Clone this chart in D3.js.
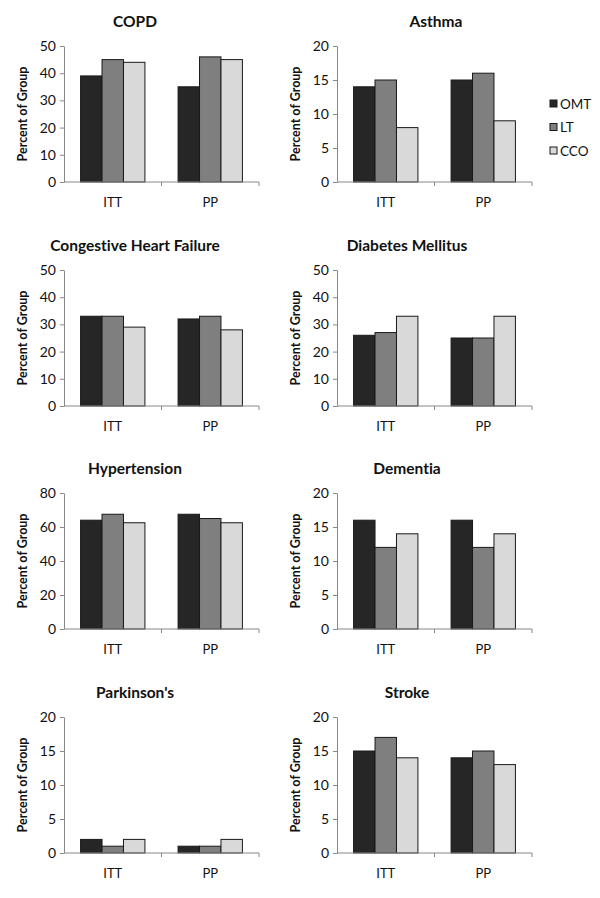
<!DOCTYPE html>
<html>
<head>
<meta charset="utf-8">
<script src="https://cdn.jsdelivr.net/npm/d3@7"></script>
<style>
  html, body { margin: 0; padding: 0; background: #fff; }
  svg { display: block; }
  text { font-family: Lato, "Open Sans", sans-serif; fill: #111; font-variant-ligatures: none; }
</style>
</head>
<body>
<svg id="chart" width="600" height="898"></svg>
<script>
// ---- data ----
const categories = ["ITT", "PP"];
const series = ["OMT", "LT", "CCO"];
const titles = ["COPD", "Asthma", "Congestive Heart Failure", "Diabetes Mellitus",
                "Hypertension", "Dementia", "Parkinson's", "Stroke"];
// values per panel: [ITT: OMT, LT, CCO], [PP: OMT, LT, CCO]
const copd         = [[39, 45, 44], [35, 46, 45]];
const asthma       = [[14, 15, 8],  [15, 16, 9]];
const chf          = [[33, 33, 29], [32, 33, 28]];
const diabetes     = [[26, 27, 33], [25, 25, 33]];
const hypertension = [[64, 67.5, 62.5], [67.5, 65, 62.5]];
const dementia     = [[16, 12, 14], [16, 12, 14]];
const parkinsons   = [[2, 1, 2],    [1, 1, 2]];
const stroke       = [[15, 17, 14], [14, 15, 13]];
const yMaxes = [50, 20, 50, 50, 80, 20, 20, 20];
const yTickSteps = [10, 5, 10, 10, 20, 5, 5, 5];
const panelValues = [copd, asthma, chf, diabetes, hypertension, dementia, parkinsons, stroke];

// ---- styles / layout ----
const colors = { OMT: "#262626", LT: "#7f7f7f", CCO: "#d9d9d9" };
const axisColor = "#888";
const plotW = 195, plotH = 136;
const colX = [64, 337];
const rowTop = [46, 270, 493, 717];
const titleX = [135, 436, 135, 407, 135, 407, 135, 407];

const svg = d3.select("#chart");

panelValues.forEach((vals, i) => {
  const col = i % 2, row = Math.floor(i / 2);
  const g = svg.append("g").attr("transform", `translate(${colX[col]},${rowTop[row]})`);

  const x0 = d3.scaleBand().domain(categories).range([0, plotW])
    .paddingInner(0.34).paddingOuter(0.17);
  const x1 = d3.scaleBand().domain(series).range([0, x0.bandwidth()]);
  const y = d3.scaleLinear().domain([0, yMaxes[i]]).range([plotH, 0]);

  // bars
  categories.forEach((c, ci) => {
    g.append("g").selectAll("rect")
      .data(series.map((s, si) => ({ s, v: vals[ci][si] })))
      .join("rect")
      .attr("x", d => x0(c) + x1(d.s))
      .attr("y", d => y(d.v))
      .attr("width", x1.bandwidth())
      .attr("height", d => plotH - y(d.v))
      .attr("fill", d => colors[d.s])
      .attr("stroke", "#1a1a1a")
      .attr("stroke-width", 1);
  });

  // y axis
  const ticks = d3.range(0, yMaxes[i] + 0.001, yTickSteps[i]);
  const ya = g.append("g")
    .call(d3.axisLeft(y).tickValues(ticks).tickSize(4).tickPadding(4).tickSizeOuter(0));
  ya.select(".domain").attr("stroke", axisColor);
  ya.selectAll(".tick line").attr("stroke", axisColor);
  ya.selectAll(".tick text").attr("font-size", 14).attr("font-family", "Lato, sans-serif").attr("fill", "#111");

  // x axis: line with ticks at category boundaries
  const xa = g.append("g").attr("transform", `translate(0,${plotH})`);
  xa.append("line").attr("x1", 0).attr("x2", plotW).attr("y1", 0).attr("y2", 0)
    .attr("stroke", axisColor);
  const step = x0.step();
  [1, 2].forEach(k => {
    xa.append("line").attr("x1", k * step).attr("x2", k * step)
      .attr("y1", 0).attr("y2", 4).attr("stroke", axisColor);
  });
  categories.forEach(c => {
    xa.append("text")
      .attr("x", x0(c) + x0.bandwidth() / 2)
      .attr("y", 25)
      .attr("text-anchor", "middle")
      .attr("font-size", 13)
      .text(c);
  });

  // y label
  g.append("text")
    .attr("transform", `translate(-37,${plotH / 2}) rotate(-90)`)
    .attr("text-anchor", "middle")
    .attr("font-size", 12.5)
    .attr("font-weight", "bold")
    .text("Percent of Group");

  // title
  svg.append("text")
    .attr("x", titleX[i])
    .attr("y", rowTop[row] - 19)
    .attr("text-anchor", "middle")
    .attr("font-size", 15.5)
    .attr("font-weight", "bold")
    .text(titles[i]);
});

// legend (Asthma panel)
const legend = svg.append("g").attr("transform", "translate(550,104)");
series.forEach((s, k) => {
  const lg = legend.append("g").attr("transform", `translate(0,${k * 23.5})`);
  lg.append("rect").attr("x", 0).attr("y", -4).attr("width", 7).attr("height", 7)
    .attr("fill", colors[s]).attr("stroke", "#1a1a1a").attr("stroke-width", 1);
  lg.append("text").attr("x", 10).attr("y", 4.5).attr("font-size", 13.5).text(s);
});
</script>
</body>
</html>
